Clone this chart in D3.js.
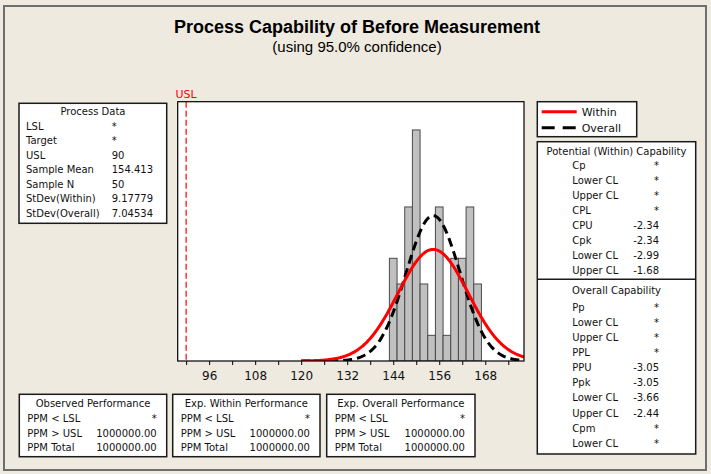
<!DOCTYPE html>
<html>
<head>
<meta charset="utf-8">
<script src="https://cdn.jsdelivr.net/npm/d3@7"></script>
<style>
  body { margin: 0; background: #eeeae0; }
  text { font-family: "DejaVu Sans", sans-serif; }
</style>
</head>
<body>
<div id="caja"></div>
<script>
// datos del grafico
var binEdges = [143, 145, 147, 149, 151, 153, 155, 157, 159, 161, 163, 165, 167];
var counts   = [4, 3, 6, 9, 3, 1, 6, 1, 4, 4, 6, 3];
var usl = 90;
var sampleMean = 154.413, sampleN = 50;
var sdWithin = 9.17779, sdOverall = 7.04534;
var majorTicks = [96, 108, 120, 132, 144, 156, 168];
var minorTicks = [90, 102, 114, 126, 138, 150, 162, 174];

var processLabels = ["LSL", "Target", "USL", "Sample Mean", "Sample N", "StDev(Within)", "StDev(Overall)"];
var processValues = ["*", "*", "90", "154.413", "50", "9.17779", "7.04534"];

var potLabels = ["Cp", "Lower CL", "Upper CL", "CPL", "CPU", "Cpk", "Lower CL", "Upper CL"];
var potValues = ["*", "*", "*", "*", "-2.34", "-2.34", "-2.99", "-1.68"];
var ovLabels  = ["Pp", "Lower CL", "Upper CL", "PPL", "PPU", "Ppk", "Lower CL", "Upper CL", "Cpm", "Lower CL"];
var ovValues  = ["*", "*", "*", "*", "-3.05", "-3.05", "-3.66", "-2.44", "*", "*"];

var perfTitles = ["Observed Performance", "Exp. Within Performance", "Exp. Overall Performance"];
var perfLabels = ["PPM < LSL", "PPM > USL", "PPM Total"];
var perfValues = [
  ["*", "1000000.00", "1000000.00"],
  ["*", "1000000.00", "1000000.00"],
  ["*", "1000000.00", "1000000.00"]
];

var w = 711, h = 474;

var svg = d3.select('#caja')
  .append('svg')
  .attr('width', w)
  .attr('height', h)
  .style('display', 'block')
  .style('background', '#eeeae0');

// borde exterior
svg.append('rect')
  .attr('x', 4).attr('y', 6).attr('width', 702).attr('height', 464)
  .attr('fill', 'none').attr('stroke', '#6e6e6e').attr('stroke-width', 2);

// titulos
svg.append('text')
  .attr('x', 357).attr('y', 33)
  .attr('text-anchor', 'middle')
  .style('font-family', '"Liberation Sans", sans-serif')
  .style('font-weight', 'bold')
  .style('font-size', '18px')
  .text('Process Capability of Before Measurement');
svg.append('text')
  .attr('x', 357).attr('y', 52)
  .attr('text-anchor', 'middle')
  .style('font-family', '"Liberation Sans", sans-serif')
  .style('font-size', '15px')
  .text('(using 95.0% confidence)');

// area del histograma
var pl = 177.7, pr = 524, pt = 101.7, pb = 361;
var x = d3.scaleLinear().domain([87.8, 178.1]).range([pl, pr]);
var y = d3.scaleLinear().domain([0, 10.1]).range([pb, pt]);

svg.append('rect')
  .attr('x', pl).attr('y', pt).attr('width', pr - pl).attr('height', pb - pt)
  .attr('fill', 'white');

svg.append('clipPath').attr('id', 'clip')
  .append('rect').attr('x', pl).attr('y', pt).attr('width', pr - pl).attr('height', pb - pt);

var plot = svg.append('g').attr('clip-path', 'url(#clip)');

plot.selectAll('rect.bar')
  .data(counts)
  .enter()
  .append('rect')
  .attr('class', 'bar')
  .attr('x', function(d, i) { return x(binEdges[i]); })
  .attr('y', function(d) { return y(d); })
  .attr('width', function(d, i) { return x(binEdges[i + 1]) - x(binEdges[i]); })
  .attr('height', function(d) { return y(0) - y(d); })
  .attr('fill', '#c0c0c0')
  .attr('stroke', '#4a4a4a')
  .attr('stroke-width', 1);

// curvas normales (media y desviaciones de Process Data)
var binW = binEdges[1] - binEdges[0];
function normal(sd) {
  var pts = [];
  for (var v = 120; v <= 179; v += 0.25) {
    var z = (v - sampleMean) / sd;
    pts.push([v, sampleN * binW * Math.exp(-0.5 * z * z) / (sd * Math.sqrt(2 * Math.PI))]);
  }
  return pts;
}
var line = d3.line()
  .x(function(d) { return x(d[0]); })
  .y(function(d) { return y(d[1]); });

plot.append('path')
  .datum(normal(sdOverall))
  .attr('d', line)
  .attr('fill', 'none')
  .attr('stroke', 'black')
  .attr('stroke-width', 3)
  .attr('stroke-dasharray', '9,5');

plot.append('path')
  .datum(normal(sdWithin))
  .attr('d', line)
  .attr('fill', 'none')
  .attr('stroke', '#ff0000')
  .attr('stroke-width', 3);

// linea USL
svg.append('line')
  .attr('x1', x(usl)).attr('x2', x(usl))
  .attr('y1', pt).attr('y2', pb)
  .attr('stroke', '#ff0000')
  .attr('stroke-width', 1.2)
  .attr('stroke-dasharray', '6,3');
svg.append('text')
  .attr('x', x(usl)).attr('y', 98)
  .attr('text-anchor', 'middle')
  .style('font-size', '11px')
  .style('fill', '#ff0000')
  .text('USL');

// marco
svg.append('rect')
  .attr('x', pl).attr('y', pt).attr('width', pr - pl).attr('height', pb - pt)
  .attr('fill', 'none').attr('stroke', 'black').attr('stroke-width', 1.2);

// eje x
var axis = svg.append('g')
  .attr('transform', 'translate(0,' + pb + ')')
  .call(d3.axisBottom(x).tickValues(majorTicks).tickSize(4).tickPadding(6));
axis.select('.domain').remove();
axis.selectAll('text').style('font-family', '"DejaVu Sans", sans-serif').style('font-size', '12px').attr('fill', '#111');

svg.append('g')
  .attr('transform', 'translate(0,' + pb + ')')
  .call(d3.axisBottom(x).tickValues(minorTicks).tickSize(4).tickFormat(''))
  .select('.domain').remove();

// cajas de texto
function box(x0, y0, x1, y1) {
  svg.append('rect')
    .attr('x', x0).attr('y', y0).attr('width', x1 - x0).attr('height', y1 - y0)
    .attr('fill', 'white').attr('stroke', '#1a1a1a').attr('stroke-width', 1.5);
}
function txt(tx, ty, s, anchor) {
  svg.append('text')
    .attr('x', tx).attr('y', ty)
    .attr('dy', '0.35em')
    .attr('text-anchor', anchor || 'start')
    .style('font-size', '10px')
    .style('fill', '#111')
    .text(s);
}

// Process Data
box(19, 103.3, 166.7, 223.3);
txt(93, 111.7, 'Process Data', 'middle');
processLabels.forEach(function(s, i) {
  txt(26, 126 + i * 14.5, s);
  txt(111.7, 126 + i * 14.5, processValues[i]);
});

// leyenda
box(537.3, 101.7, 636.7, 136.7);
svg.append('line')
  .attr('x1', 541.7).attr('x2', 576.7).attr('y1', 111.7).attr('y2', 111.7)
  .attr('stroke', '#ff0000').attr('stroke-width', 3);
svg.append('line')
  .attr('x1', 541.7).attr('x2', 576.7).attr('y1', 127.7).attr('y2', 127.7)
  .attr('stroke', 'black').attr('stroke-width', 3).attr('stroke-dasharray', '13,8');
svg.append('text').attr('x', 581.7).attr('y', 111.7).attr('dy', '0.35em')
  .style('font-size', '11px').style('fill', '#111').text('Within');
svg.append('text').attr('x', 581.7).attr('y', 127.7).attr('dy', '0.35em')
  .style('font-size', '11px').style('fill', '#111').text('Overall');

// capacidad
box(537.3, 141.7, 695.7, 454);
svg.append('line')
  .attr('x1', 537.3).attr('x2', 695.7).attr('y1', 279.3).attr('y2', 279.3)
  .attr('stroke', '#1a1a1a').attr('stroke-width', 1.5);
txt(616.5, 151, 'Potential (Within) Capability', 'middle');
potLabels.forEach(function(s, i) {
  txt(572.3, 165.7 + i * 14.9, s);
  txt(659, 165.7 + i * 14.9, potValues[i], 'end');
});
txt(616.5, 290, 'Overall Capability', 'middle');
ovLabels.forEach(function(s, i) {
  txt(572.3, 307.3 + i * 15.1, s);
  txt(659, 307.3 + i * 15.1, ovValues[i], 'end');
});

// desempeno
var perfX = [[19.3, 166.7], [172.7, 320], [326.7, 475]];
perfTitles.forEach(function(t, k) {
  var x0 = perfX[k][0], x1 = perfX[k][1];
  box(x0, 394.3, x1, 456.7);
  txt((x0 + x1) / 2, 403.3, t, 'middle');
  perfLabels.forEach(function(s, i) {
    var ty = [418.3, 433.3, 447.7][i];
    txt(x0 + 8, ty, s);
    txt(x1 - 10, ty, perfValues[k][i], 'end');
  });
});
</script>
</body>
</html>
